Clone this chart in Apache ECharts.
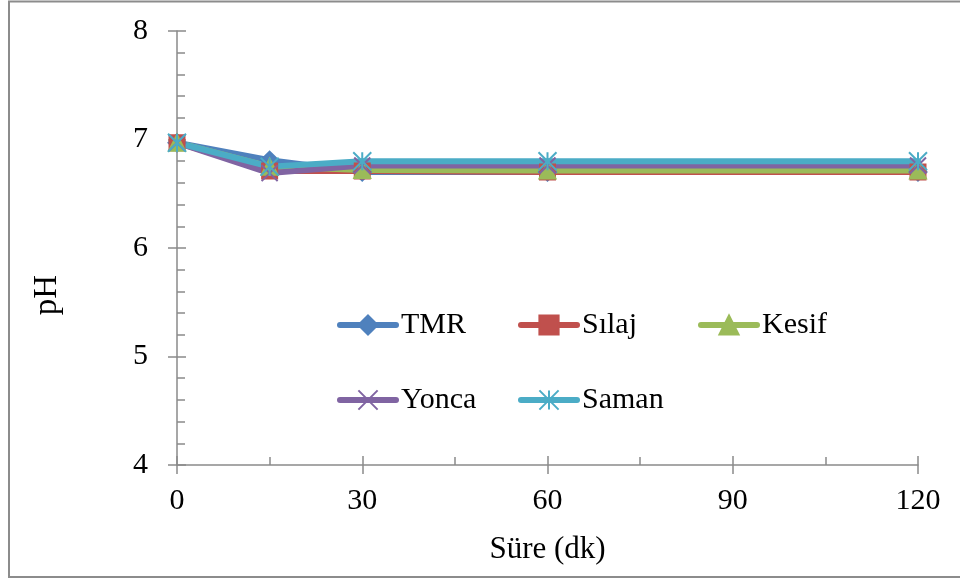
<!DOCTYPE html>
<html>
<head>
<meta charset="utf-8">
<script src="https://cdn.jsdelivr.net/npm/echarts@6/dist/echarts.min.js"></script>
<style>
  html, body { margin: 0; padding: 0; background: #fff; }
  #chart { width: 960px; height: 581px; }
</style>
</head>
<body>
<div id="chart"></div>
<script>
// Sampling times (minutes)
const times = [0, 15, 30, 60, 120];

// pH readings per feed type
const seriesNames = ['TMR', 'Sılaj', 'Kesif', 'Yonca', 'Saman'];
const tmr   = [6.97, 6.81, 6.70, 6.70, 6.70];
const silaj = [6.97, 6.71, 6.71, 6.70, 6.70];
const kesif = [6.97, 6.75, 6.72, 6.715, 6.715];
const yonca = [6.97, 6.69, 6.76, 6.76, 6.76];
const saman = [6.97, 6.75, 6.80, 6.80, 6.80];

const seriesValues = [tmr, silaj, kesif, yonca, saman];
const colors = ['#4F81BD', '#C0504D', '#9BBB59', '#8064A2', '#4BACC6'];
const symbols = [
  'diamond',
  'rect',
  'triangle',
  'path://M0,0L20,20M20,0L0,20',
  'path://M0,0L20,20M20,0L0,20M10,0L10,20'
];
const symbolSizes = [17, 15, 16, 16, 18];

const FONT = '"Liberation Serif", "Times New Roman", serif';
const AXIS_GRAY = '#8a8a8a';

const chart = echarts.init(document.getElementById('chart'), null, { renderer: 'canvas' });

const series = seriesNames.map((name, i) => ({
  name: name,
  type: 'line',
  xAxisIndex: 0,
  yAxisIndex: 0,
  data: times.map((t, j) => [t, seriesValues[i][j]]),
  symbol: symbols[i],
  symbolSize: symbolSizes[i],
  showAllSymbol: true,
  lineStyle: { color: colors[i], width: 6, join: 'round', cap: 'round' },
  itemStyle: { color: colors[i], borderColor: colors[i], borderWidth: 2 },
  emphasis: { disabled: true },
  animation: false
}));

const legendBase = {
  orient: 'vertical',
  top: 310,
  padding: 0,
  itemWidth: 56,
  itemHeight: 24,
  itemGap: 45,
  lineStyle: { width: 6, cap: 'round' },
  textStyle: { fontFamily: FONT, fontSize: 30, color: '#000', lineHeight: 30 },
  selectedMode: false
};

const option = {
  backgroundColor: '#fff',
  animation: false,
  grid: { left: 177, right: 42, top: 31, bottom: 116 },
  xAxis: [
    {
      type: 'value', position: 'bottom', min: 0, max: 120, interval: 30,
      axisLine: { show: true, lineStyle: { color: AXIS_GRAY, width: 1.5 } },
      axisTick: { show: true, inside: true, length: 9, lineStyle: { color: AXIS_GRAY, width: 1.5 } },
      minorTick: { show: true, splitNumber: 2, length: 8, lineStyle: { color: AXIS_GRAY, width: 1.5 } },
      splitLine: { show: false },
      axisLabel: { fontFamily: FONT, fontSize: 30, color: '#000', margin: 21 },
      name: 'Süre (dk)', nameLocation: 'middle', nameGap: 85,
      nameTextStyle: { fontFamily: FONT, fontSize: 31, color: '#000', verticalAlign: 'middle' }
    },
    {
      type: 'value', position: 'bottom', min: 0, max: 120, interval: 30,
      axisLine: { show: false },
      axisTick: { show: true, inside: false, length: 9, lineStyle: { color: AXIS_GRAY, width: 1.5 } },
      axisLabel: { show: false },
      splitLine: { show: false }
    }
  ],
  yAxis: [
    {
      type: 'value', position: 'left', min: 4, max: 8, interval: 1,
      axisLine: { show: true, lineStyle: { color: AXIS_GRAY, width: 1.5 } },
      axisTick: { show: true, inside: true, length: 9, lineStyle: { color: AXIS_GRAY, width: 1.5 } },
      minorTick: { show: true, splitNumber: 5, length: 8, lineStyle: { color: AXIS_GRAY, width: 1.5 } },
      splitLine: { show: false },
      axisLabel: { fontFamily: FONT, fontSize: 30, color: '#000', margin: 29 }
    },
    {
      type: 'value', position: 'left', min: 4, max: 8, interval: 1,
      axisLine: { show: false },
      axisTick: { show: true, inside: false, length: 9, lineStyle: { color: AXIS_GRAY, width: 1.5 } },
      axisLabel: { show: false },
      splitLine: { show: false }
    }
  ],
  legend: [
    Object.assign({}, legendBase, { left: 337, data: ['TMR', 'Yonca'] }),
    Object.assign({}, legendBase, { left: 518, data: ['Sılaj', 'Saman'] }),
    Object.assign({}, legendBase, { left: 698, data: ['Kesif'] })
  ],
  graphic: [
    {
      type: 'rect', silent: true, z: -1,
      shape: { x: 9, y: 1.5, width: 980, height: 575.5 },
      style: { fill: 'none', stroke: '#8c8c8c', lineWidth: 2 }
    },
    {
      type: 'text', silent: true,
      x: 47, y: 295, rotation: Math.PI / 2,
      style: {
        text: 'pH', fontFamily: FONT, fontSize: 33, fill: '#000',
        align: 'center', verticalAlign: 'middle'
      }
    }
  ],
  series: series
};

chart.setOption(option);
</script>
</body>
</html>
